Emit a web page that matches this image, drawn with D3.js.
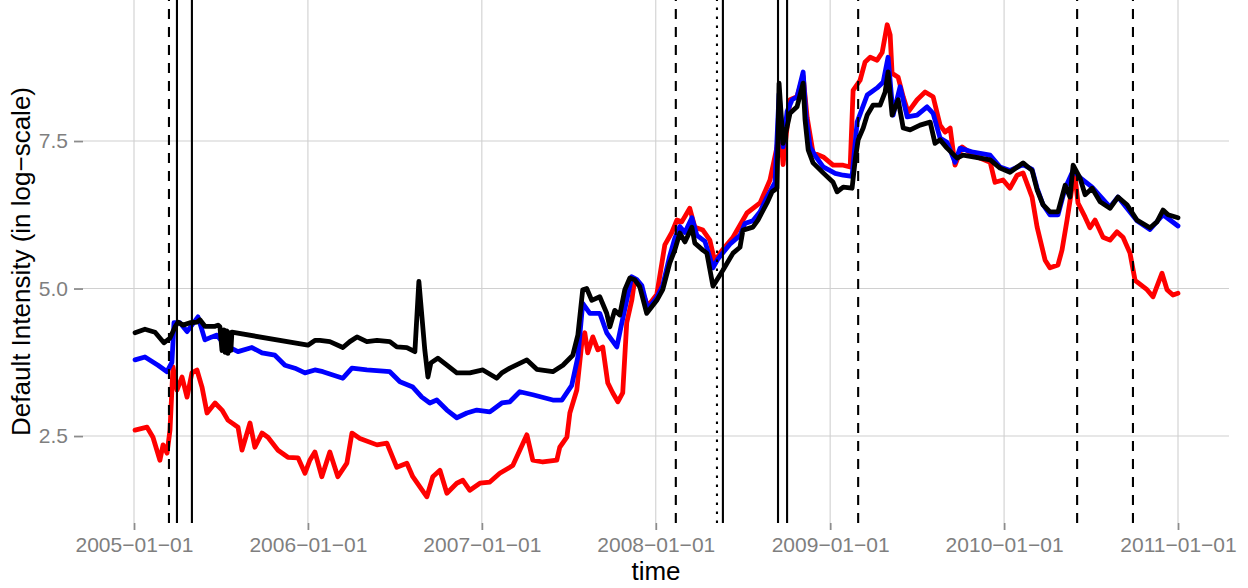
<!DOCTYPE html>
<html>
<head>
<meta charset="utf-8">
<script src="https://d3js.org/d3.v7.min.js"></script>
<style>
    body { margin: 0; background: #fff; }
    text { font-family: "Liberation Sans", Arial, Helvetica, sans-serif; }
</style>
</head>
<body>
<script>
// time in decimal years, value = default intensity (log-scale)
var redSeries = [
    [2005.006,2.6],[2005.075,2.65],[2005.109,2.48],[2005.149,2.09],[2005.167,2.35],[2005.190,2.21],
    [2005.207,2.6],[2005.224,3.67],[2005.247,3.28],[2005.276,3.5],[2005.305,3.16],[2005.333,3.57],
    [2005.362,3.62],[2005.391,3.33],[2005.420,2.89],[2005.466,3.06],[2005.506,2.94],[2005.540,2.77],
    [2005.598,2.65],[2005.621,2.26],[2005.667,2.72],[2005.695,2.31],[2005.736,2.55],[2005.770,2.48],
    [2005.828,2.26],[2005.885,2.14],[2005.943,2.13],[2005.983,1.87],[2006.011,2.09],[2006.040,2.23],
    [2006.080,1.81],[2006.126,2.23],[2006.172,1.81],[2006.224,2.04],[2006.253,2.55],[2006.299,2.46],
    [2006.397,2.35],[2006.454,2.38],[2006.511,1.97],[2006.569,2.04],[2006.603,1.81],[2006.684,1.47],
    [2006.718,1.81],[2006.759,1.92],[2006.799,1.53],[2006.856,1.7],[2006.891,1.75],[2006.931,1.58],
    [2006.989,1.7],[2007.046,1.72],[2007.103,1.87],[2007.178,2.0],[2007.259,2.52],[2007.293,2.09],
    [2007.351,2.06],[2007.431,2.09],[2007.448,2.31],[2007.489,2.48],[2007.506,2.89],[2007.546,3.28],
    [2007.575,4.08],[2007.592,4.25],[2007.609,3.91],[2007.638,4.18],[2007.667,3.96],[2007.695,4.01],
    [2007.724,3.4],[2007.753,3.23],[2007.782,3.08],[2007.810,3.23],[2007.833,4.42],[2007.862,4.8],
    [2007.879,5.15],[2007.908,5.05],[2007.954,4.7],[2008.006,4.9],[2008.052,5.74],[2008.092,5.95],
    [2008.121,6.16],[2008.149,6.13],[2008.195,6.36],[2008.224,6.04],[2008.270,5.99],[2008.310,5.82],
    [2008.339,5.45],[2008.368,5.6],[2008.443,5.87],[2008.523,6.28],[2008.598,6.45],[2008.655,6.84],
    [2008.695,7.4],[2008.713,7.74],[2008.730,7.1],[2008.770,8.2],[2008.810,8.25],[2008.845,8.6],
    [2008.868,7.9],[2008.902,7.3],[2008.960,7.23],[2009.017,7.09],[2009.075,7.09],[2009.115,7.06],
    [2009.132,8.36],[2009.172,8.53],[2009.201,8.84],[2009.230,8.92],[2009.270,8.87],[2009.299,9.0],
    [2009.328,9.47],[2009.345,9.3],[2009.356,8.65],[2009.391,8.58],[2009.420,8.25],[2009.448,7.99],
    [2009.500,8.2],[2009.546,8.33],[2009.592,8.25],[2009.632,7.77],[2009.661,7.65],[2009.690,7.72],
    [2009.718,7.09],[2009.759,7.4],[2009.822,7.26],[2009.920,7.14],[2009.948,6.8],[2009.994,6.84],
    [2010.034,6.7],[2010.075,6.92],[2010.109,6.96],[2010.161,6.55],[2010.190,6.04],[2010.236,5.48],
    [2010.264,5.35],[2010.310,5.4],[2010.333,5.65],[2010.362,6.16],[2010.391,6.72],[2010.408,6.9],
    [2010.425,6.45],[2010.466,6.21],[2010.494,6.03],[2010.523,6.16],[2010.569,5.87],[2010.609,5.82],
    [2010.649,5.96],[2010.684,5.87],[2010.724,5.6],[2010.753,5.14],[2010.822,4.98],[2010.856,4.86],
    [2010.908,5.26],[2010.937,4.98],[2010.971,4.89],[2011.000,4.92]
];

var blueSeries = [
    [2005.006,3.79],[2005.063,3.84],[2005.138,3.7],[2005.190,3.59],[2005.218,3.75],[2005.230,4.42],
    [2005.264,4.42],[2005.305,4.27],[2005.333,4.38],[2005.368,4.52],[2005.408,4.13],[2005.448,4.18],
    [2005.477,4.21],[2005.523,4.04],[2005.598,3.93],[2005.678,4.0],[2005.736,3.91],[2005.810,3.87],
    [2005.868,3.7],[2005.925,3.65],[2005.983,3.57],[2006.040,3.62],[2006.086,3.59],[2006.201,3.48],
    [2006.253,3.65],[2006.339,3.62],[2006.471,3.59],[2006.529,3.42],[2006.603,3.33],[2006.655,3.16],
    [2006.701,3.06],[2006.741,3.11],[2006.799,2.94],[2006.856,2.81],[2006.914,2.89],[2006.971,2.94],
    [2007.046,2.91],[2007.115,3.06],[2007.161,3.08],[2007.218,3.25],[2007.293,3.2],[2007.408,3.11],
    [2007.460,3.11],[2007.517,3.36],[2007.552,3.84],[2007.580,4.75],[2007.621,4.58],[2007.678,4.58],
    [2007.718,4.25],[2007.747,4.13],[2007.776,4.01],[2007.805,4.42],[2007.833,4.8],[2007.862,5.2],
    [2007.891,5.15],[2007.920,5.05],[2007.954,4.65],[2008.006,4.85],[2008.040,5.05],[2008.080,5.55],
    [2008.109,5.85],[2008.138,6.05],[2008.167,5.95],[2008.207,6.2],[2008.236,5.9],[2008.282,5.8],
    [2008.328,5.35],[2008.356,5.5],[2008.425,5.75],[2008.483,5.9],[2008.511,6.1],[2008.557,6.15],
    [2008.598,6.3],[2008.638,6.55],[2008.684,6.8],[2008.707,8.3],[2008.730,7.4],[2008.753,8.0],
    [2008.782,8.2],[2008.810,8.25],[2008.845,8.67],[2008.862,7.9],[2008.885,7.4],[2008.914,7.25],
    [2008.960,7.06],[2009.029,6.95],[2009.075,6.92],[2009.126,6.9],[2009.155,7.82],[2009.213,8.28],
    [2009.270,8.4],[2009.305,8.5],[2009.333,8.92],[2009.362,7.94],[2009.402,8.42],[2009.443,7.91],
    [2009.500,7.94],[2009.557,8.08],[2009.592,7.97],[2009.632,7.55],[2009.672,7.48],[2009.718,7.14],
    [2009.747,7.38],[2009.822,7.31],[2009.920,7.26],[2009.977,7.06],[2010.034,7.0],[2010.109,7.1],
    [2010.161,7.02],[2010.190,6.7],[2010.224,6.42],[2010.264,6.25],[2010.310,6.25],[2010.351,6.7],
    [2010.397,7.0],[2010.437,6.88],[2010.506,6.72],[2010.609,6.38],[2010.655,6.55],[2010.764,6.15],
    [2010.839,6.0],[2010.914,6.25],[2011.000,6.06]
];

var blackSeries = [
    [2005.006,4.25],[2005.063,4.31],[2005.121,4.26],[2005.172,4.08],[2005.207,4.16],[2005.236,4.35],
    [2005.253,4.43],[2005.282,4.38],[2005.322,4.42],[2005.362,4.43],[2005.379,4.47],[2005.408,4.36],
    [2005.466,4.36],[2005.483,4.38],[2005.494,4.35],[2005.506,3.95],[2005.517,4.3],[2005.523,3.92],
    [2005.534,4.28],[2005.540,3.9],[2005.552,4.25],[2005.557,3.95],[2005.563,4.26],[2006.000,4.04],
    [2006.040,4.12],[2006.069,4.12],[2006.126,4.1],[2006.201,4.0],[2006.241,4.1],[2006.282,4.18],
    [2006.339,4.1],[2006.397,4.12],[2006.471,4.1],[2006.511,4.01],[2006.569,4.0],[2006.615,3.93],
    [2006.638,5.12],[2006.672,3.96],[2006.690,3.5],[2006.707,3.74],[2006.747,3.82],[2006.799,3.7],
    [2006.856,3.57],[2006.931,3.57],[2007.006,3.62],[2007.086,3.48],[2007.115,3.57],[2007.161,3.65],
    [2007.259,3.79],[2007.316,3.63],[2007.408,3.59],[2007.466,3.7],[2007.523,3.87],[2007.552,4.21],
    [2007.580,4.98],[2007.603,5.0],[2007.632,4.8],[2007.678,4.86],[2007.718,4.58],[2007.736,4.35],
    [2007.764,4.63],[2007.793,4.55],[2007.822,4.98],[2007.851,5.18],[2007.879,5.15],[2007.908,5.03],
    [2007.948,4.58],[2008.006,4.8],[2008.040,4.98],[2008.080,5.43],[2008.109,5.65],[2008.138,5.94],
    [2008.167,5.79],[2008.207,6.04],[2008.224,5.77],[2008.270,5.65],[2008.293,5.6],[2008.328,5.04],
    [2008.385,5.31],[2008.443,5.6],[2008.483,5.7],[2008.500,5.99],[2008.557,6.04],[2008.586,6.16],
    [2008.638,6.45],[2008.667,6.64],[2008.695,6.7],[2008.707,8.48],[2008.730,7.46],[2008.753,7.74],
    [2008.770,7.97],[2008.810,8.08],[2008.845,8.48],[2008.856,7.86],[2008.874,7.35],[2008.902,7.13],
    [2008.960,6.96],[2009.017,6.8],[2009.040,6.64],[2009.075,6.72],[2009.126,6.7],[2009.144,7.18],
    [2009.161,7.52],[2009.190,7.72],[2009.213,7.94],[2009.247,8.11],[2009.287,8.11],[2009.316,8.33],
    [2009.333,8.67],[2009.356,7.94],[2009.391,8.2],[2009.420,7.72],[2009.460,7.69],[2009.517,7.77],
    [2009.575,7.82],[2009.603,7.46],[2009.632,7.52],[2009.672,7.38],[2009.730,7.21],[2009.764,7.26],
    [2009.822,7.23],[2009.920,7.18],[2009.977,7.04],[2010.034,6.97],[2010.109,7.13],[2010.161,7.0],
    [2010.190,6.67],[2010.224,6.42],[2010.264,6.3],[2010.310,6.3],[2010.351,6.75],[2010.379,6.55],
    [2010.397,7.09],[2010.437,6.87],[2010.466,6.59],[2010.506,6.7],[2010.552,6.47],[2010.609,6.36],
    [2010.655,6.55],[2010.707,6.42],[2010.764,6.16],[2010.839,6.03],[2010.879,6.13],[2010.914,6.33],
    [2010.943,6.25],[2011.000,6.2]
];

// event markers
var eventTimes = [2005.201, 2005.247, 2005.333, 2008.115, 2008.351, 2008.385, 2008.701, 2008.753, 2009.161, 2010.420, 2010.741];
var eventTypes = ['dashed', 'solid', 'solid', 'dashed', 'dotted', 'solid', 'solid', 'solid', 'dashed', 'dashed', 'dashed'];

var yTicks = [2.5, 5.0, 7.5];
var xTickYears = [2005, 2006, 2007, 2008, 2009, 2010, 2011];

var width = 1248;
var height = 588;
var panel = {left: 83, right: 1229, top: 0, bottom: 523};

function toDate(t) {
    var y = Math.floor(t);
    var a = Date.UTC(y, 0, 1), b = Date.UTC(y + 1, 0, 1);
    return new Date(a + (t - y) * (b - a));
}

var svg = d3.select('body')
    .append('svg')
    .attr('width', width)
    .attr('height', height);

var xScale = d3.scaleUtc()
    .domain([toDate(2005), toDate(2011)])
    .range([134, 1178]);

var yScale = d3.scaleLinear()
    .domain([1.026, 9.89])
    .range([panel.bottom, panel.top]);

// grid
svg.append('g')
    .selectAll('line')
    .data(yTicks)
    .enter()
    .append('line')
    .attr('x1', panel.left)
    .attr('x2', panel.right)
    .attr('y1', d => yScale(d))
    .attr('y2', d => yScale(d))
    .attr('stroke', '#d0d0d0')
    .attr('stroke-width', 1.1);

svg.append('g')
    .selectAll('line')
    .data(xTickYears)
    .enter()
    .append('line')
    .attr('x1', d => xScale(toDate(d)))
    .attr('x2', d => xScale(toDate(d)))
    .attr('y1', panel.top)
    .attr('y2', panel.bottom)
    .attr('stroke', '#d0d0d0')
    .attr('stroke-width', 1.1);

// axes
var fmt = d3.utcFormat('%Y-%m-%d');
var xAxis = d3.axisBottom(xScale)
    .tickValues(xTickYears.map(toDate))
    .tickSize(7)
    .tickPadding(6)
    .tickFormat(d => fmt(d).replace(/-/g, '\u2212'));

var gx = svg.append('g')
    .attr('transform', 'translate(0,' + panel.bottom + ')')
    .call(xAxis);

var yAxis = d3.axisLeft(yScale)
    .tickValues(yTicks)
    .tickSize(9)
    .tickPadding(6)
    .tickFormat(d3.format('.1f'));

var gy = svg.append('g')
    .attr('transform', 'translate(' + panel.left + ',0)')
    .call(yAxis);

[gx, gy].forEach(function (g) {
    g.select('.domain').remove();
    g.selectAll('.tick line').attr('stroke', '#8c8c8c').attr('stroke-width', 1.8);
    g.selectAll('.tick text')
        .attr('fill', '#7f7f7f')
        .style('font-size', '21px')
        .style('font-family', '"Liberation Sans", Arial, sans-serif');
});
gx.selectAll('.tick text').attr('dy', '0.75em');

// series
var line = d3.line()
    .x(d => xScale(toDate(d[0])))
    .y(d => yScale(d[1]));

var series = [
    {data: redSeries, color: '#ff0000'},
    {data: blueSeries, color: '#0000ff'},
    {data: blackSeries, color: '#000000'}
];

svg.append('g')
    .selectAll('path')
    .data(series)
    .enter()
    .append('path')
    .attr('d', d => line(d.data))
    .attr('fill', 'none')
    .attr('stroke', d => d.color)
    .attr('stroke-width', 4.8)
    .attr('stroke-linejoin', 'round')
    .attr('stroke-linecap', 'round');

// vertical event lines
var dashes = {solid: null, dashed: '10,8', dotted: '2.5,6.5'};
svg.append('g')
    .selectAll('line')
    .data(eventTimes)
    .enter()
    .append('line')
    .attr('x1', d => xScale(toDate(d)))
    .attr('x2', d => xScale(toDate(d)))
    .attr('y1', panel.bottom)
    .attr('y2', panel.top)
    .attr('stroke', '#000')
    .attr('stroke-width', 2.1)
    .attr('stroke-dasharray', (d, i) => dashes[eventTypes[i]]);

// titles
svg.append('text')
    .attr('x', (panel.left + panel.right) / 2)
    .attr('y', 580)
    .attr('text-anchor', 'middle')
    .style('font-size', '26px')
    .text('time');

svg.append('text')
    .attr('transform', 'translate(30,' + (panel.top + panel.bottom) / 2 + ') rotate(-90)')
    .attr('text-anchor', 'middle')
    .style('font-size', '26px')
    .text('Default Intensity (in log\u2212scale)');
</script>
</body>
</html>
